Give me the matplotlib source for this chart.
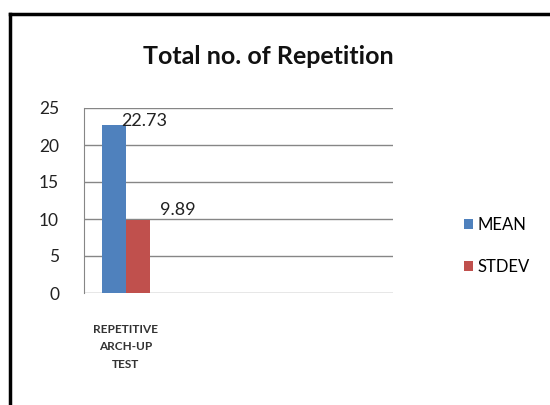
import matplotlib.pyplot as plt
import matplotlib.lines

categories = ['REPETITIVE\nARCH-UP\nTEST']
series_names = ['MEAN', 'STDEV']
mean_vals = [22.73]
stdev_vals = [9.89]
yticks = [0, 5, 10, 15, 20, 25]

plt.rcParams['font.family'] = ['Lato', 'DejaVu Sans']

fig = plt.figure(figsize=(5.5, 4.05), dpi=100)
ax = fig.add_axes([84/550, 1 - 293/405, (393-84)/550, (293-108)/405])

w = 1.0
x0 = 0
b1 = ax.bar(x0 - w/2, mean_vals[0], width=w, color='#4F81BD', align='center', label=series_names[0], zorder=3)
b2 = ax.bar(x0 + w/2, stdev_vals[0], width=w, color='#C0504D', align='center', label=series_names[1], zorder=3)

# bars span 102..150 px of 84..393 px plot width
left = x0 - w - (102 - 84) / 24
ax.set_xlim(left, left + 309 / 24)
ax.set_ylim(0, 25)
ax.set_yticks(yticks)
ax.set_xticks([x0])
ax.set_xticklabels(categories, fontsize=8.5, fontweight='bold', color='#333333', linespacing=1.75)
ax.tick_params(axis='x', length=0, pad=22)
ax.tick_params(axis='y', length=0, pad=18, labelsize=12.5, labelcolor='#222222')
ax.grid(axis='y', color='#868686', lw=1, zorder=0)
for s in ['top', 'right', 'bottom']:
    ax.spines[s].set_visible(False)
ax.spines['left'].set_color('#868686')

ax.text(x0 - w/2 + 0.3, mean_vals[0] - 0.6, f'{mean_vals[0]:.2f}', fontsize=13, va='bottom', ha='left', color='#222222')
ax.text(x0 + w/2 + 0.9, stdev_vals[0] + 0.2, f'{stdev_vals[0]:.2f}', fontsize=13, va='bottom', ha='left', color='#222222')

fig.text(268/550, 1 - 57/405, 'Total no. of Repetition', fontsize=18, fontweight='bold',
         ha='center', va='center', color='#111111')

fig.legend(handles=[b1, b2], labels=series_names, loc='center left',
           bbox_to_anchor=(449/550, 1 - 246/405), frameon=False, fontsize=12,
           handlelength=0.55, handleheight=0.55, handletextpad=0.25, labelspacing=1.6)

fig.add_artist(matplotlib.lines.Line2D([10/550, 10/550], [0, 1 - 14/405], transform=fig.transFigure, color='black', lw=2.5))
fig.add_artist(matplotlib.lines.Line2D([10/550, 1.0], [1 - 14/405, 1 - 14/405], transform=fig.transFigure, color='black', lw=2.5))

fig.savefig('out.png', dpi=100)
